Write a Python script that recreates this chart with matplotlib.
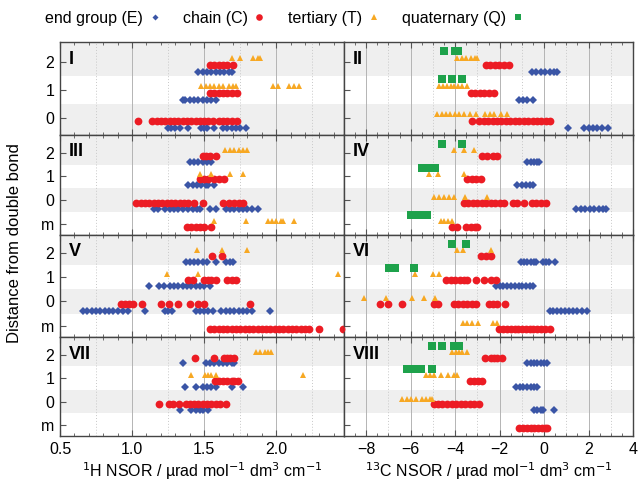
import numpy as np
import matplotlib.pyplot as plt
from matplotlib.lines import Line2D
from matplotlib.ticker import MultipleLocator

plt.rcParams['font.family'] = ['Liberation Sans', 'DejaVu Sans']

# -----------------------------
# data: NSOR values per panel, group and row (2, 1, 0, -1 = "m")
# -----------------------------
I_E = {2: [1.46, 1.49, 1.52, 1.55, 1.58, 1.61, 1.64, 1.67, 1.69],
       1: [1.35, 1.37, 1.40, 1.43, 1.46, 1.49, 1.52, 1.55, 1.58],
       0: [1.25, 1.27, 1.30, 1.33, 1.39, 1.48, 1.50, 1.52, 1.57, 1.63, 1.66, 1.69, 1.72, 1.75, 1.79]}
I_C = {2: [1.54, 1.57, 1.60, 1.63, 1.66, 1.70],
       1: [1.54, 1.57, 1.60, 1.63, 1.66, 1.69, 1.73],
       0: [1.04, 1.14, 1.17, 1.20, 1.23, 1.26, 1.29, 1.32, 1.35, 1.38, 1.41, 1.44, 1.47, 1.50,
           1.53, 1.56, 1.60, 1.63, 1.66, 1.69, 1.73]}
I_T = {2: [1.69, 1.75, 1.84, 1.87, 1.89],
       1: [1.48, 1.51, 1.54, 1.57, 1.60, 1.63, 1.67, 1.70, 1.72, 1.98, 2.01, 2.09, 2.12, 2.16]}
I_Q = {}

II_E = {2: [-0.55, -0.35, -0.15, 0.05, 0.25, 0.45, 0.6],
        1: [-1.15, -0.95, -0.75, -0.52],
        0: [1.09, 1.8, 2.0, 2.2, 2.4, 2.62, 2.88]}
II_C = {2: [-2.62, -2.42, -2.22, -2.02, -1.82, -1.57],
        1: [-3.3, -3.1, -2.9, -2.7, -2.5, -2.25],
        0: [-3.22, -2.92, -2.72, -2.52, -2.32, -2.12, -1.92, -1.72, -1.52, -1.32, -1.12, -0.92,
            -0.72, -0.52, -0.32, -0.12, 0.08, 0.25]}
II_T = {2: [-3.9, -3.7, -3.5, -3.3, -3.1, -3.0],
        1: [-4.72, -4.55, -4.38, -4.2, -4.03, -3.86, -3.7, -3.45],
        0: [-4.8, -4.57, -4.42, -4.22, -4.02, -3.82, -3.6, -3.35, -3.07, -2.67, -2.45, -2.25,
            -1.95, -1.65]}
II_Q = {2: [-4.5, -4.0, -3.85],
        1: [-4.57, -4.15, -3.67]}

III_E = {2: [1.40, 1.43, 1.46, 1.49, 1.52, 1.55],
         1: [1.39, 1.42, 1.45, 1.48, 1.51, 1.53, 1.57],
         0: [1.155, 1.178, 1.23, 1.26, 1.29, 1.32, 1.35, 1.39, 1.42, 1.45, 1.47, 1.54, 1.58,
             1.65, 1.68, 1.71, 1.74, 1.77, 1.80, 1.83, 1.87]}
III_C = {2: [1.49, 1.51, 1.54, 1.58],
         1: [1.47, 1.50, 1.53, 1.57, 1.60, 1.64],
         0: [1.03, 1.06, 1.09, 1.12, 1.15, 1.18, 1.21, 1.24, 1.27, 1.30, 1.33, 1.36, 1.39,
             1.43, 1.49, 1.63, 1.67, 1.71, 1.74, 1.77],
         -1: [1.38, 1.41, 1.44, 1.47, 1.50, 1.55]}
III_T = {2: [1.645, 1.68, 1.71, 1.74, 1.77, 1.80],
         1: [1.47, 1.55, 1.68, 1.77],
         -1: [1.57, 1.79, 1.94, 1.97, 2.0, 2.03, 2.05, 2.12]}
III_Q = {}

IV_E = {2: [-0.75, -0.6, -0.45, -0.3, -0.22],
        1: [-1.2, -1.0, -0.8, -0.65, -0.52],
        0: [1.45, 1.65, 1.85, 2.05, 2.25, 2.45, 2.65, 2.77]}
IV_C = {2: [-2.77, -2.55, -2.32, -2.1],
        1: [-3.45, -3.25, -3.05, -2.85],
        0: [-3.6, -3.4, -3.2, -3.0, -2.8, -2.6, -2.4, -2.2, -2.0, -1.8, -1.42, -1.2, -0.9,
            -0.55, -0.35, -0.15, 0.1],
        -1: [-4.12, -3.92, -3.52, -3.3, -3.1, -3.0]}
IV_T = {2: [-4.05, -3.6, -3.15],
        1: [-5.17, -4.75, -3.6],
        0: [-4.95, -4.72, -4.5, -4.27, -4.05, -3.55, -2.55],
        -1: [-4.65, -4.48, -4.3, -4.12]}
IV_Q = {2: [-4.57, -3.67],
        1: [-5.5, -5.3, -5.1, -4.9],
        -1: [-6.0, -5.8, -5.6, -5.47, -5.25]}

V_E = {2: [1.375, 1.40, 1.43, 1.46, 1.49, 1.52, 1.58, 1.65, 1.68, 1.70],
       1: [1.12, 1.19, 1.22, 1.26, 1.29, 1.32, 1.35, 1.38, 1.41, 1.44, 1.47, 1.50, 1.54],
       0: [0.66, 0.69, 0.72, 0.75, 0.78, 0.81, 0.84, 0.87, 0.90, 0.935, 0.975, 1.09, 1.225,
           1.25, 1.28, 1.44, 1.47, 1.50, 1.53, 1.56, 1.62, 1.65, 1.68, 1.71, 1.74, 1.77,
           1.80, 1.83, 1.96]}
V_C = {2: [1.556, 1.623],
       1: [1.39, 1.42, 1.50, 1.53, 1.55, 1.58, 1.66, 1.69, 1.72],
       0: [0.92, 0.95, 0.98, 1.005, 1.07, 1.20, 1.255, 1.32, 1.40, 1.46, 1.50, 1.82],
       -1: [1.54, 1.57, 1.60, 1.63, 1.66, 1.69, 1.72, 1.75, 1.78, 1.81, 1.84, 1.87, 1.90,
            1.93, 1.96, 1.99, 2.02, 2.05, 2.08, 2.11, 2.14, 2.17, 2.20, 2.23, 2.30, 2.46]}
V_T = {2: [1.451, 1.623, 1.799],
       1: [1.241, 1.456, 2.431]}
V_Q = {}

VI_E = {2: [-1.05, -0.9, -0.75, -0.6, -0.45, -0.37, -0.07, 0.08, 0.22, 0.49],
        1: [-2.17, -2.0, -1.83, -1.66, -1.49, -1.32, -1.15, -0.98, -0.81, -0.65, -0.52],
        0: [0.25, 0.42, 0.59, 0.76, 0.93, 1.1, 1.3, 1.5, 1.7, 1.95]}
VI_C = {2: [-2.85, -2.62, -2.4],
        1: [-4.39, -4.2, -4.0, -3.8, -3.6, -3.45, -3.04, -2.7, -2.4, -2.17],
        0: [-7.39, -7.0, -6.4, -4.95, -4.75, -4.05, -3.85, -3.65, -3.45, -3.25, -3.07, -2.5,
            -2.3, -2.1, -1.75],
        -1: [-9.15, -2.02, -1.85, -1.68, -1.5, -1.33, -1.16, -0.99, -0.82, -0.65, -0.48,
             -0.31, -0.14, 0.03, 0.25]}
VI_T = {2: [-3.9, -3.64, -2.4],
        1: [-5.8, -4.99, -4.72],
        0: [-8.1, -7.09, -5.92, -5.4, -4.9],
        -1: [-3.64, -3.45, -3.22, -2.95, -2.29, -2.1]}
VI_Q = {2: [-4.12, -3.49],
        1: [-6.97, -6.7, -5.85]}

VII_E = {2: [1.352, 1.514, 1.54, 1.57, 1.60, 1.63, 1.66, 1.69, 1.71],
         1: [1.368, 1.44, 1.49, 1.52, 1.55, 1.58, 1.69, 1.77],
         0: [1.333, 1.41, 1.44, 1.47, 1.49, 1.53]}
VII_C = {2: [1.433, 1.565, 1.641, 1.66, 1.68, 1.704],
         1: [1.572, 1.60, 1.63, 1.66, 1.69, 1.71, 1.734],
         0: [1.185, 1.255, 1.282, 1.324, 1.375, 1.40, 1.43, 1.46, 1.49, 1.52, 1.55, 1.58,
             1.61, 1.653]}
VII_T = {2: [1.861, 1.89, 1.92, 1.94, 1.965],
         1: [1.41, 1.509, 1.53, 1.55, 1.579, 2.185]}
VII_Q = {}

VIII_E = {2: [-0.75, -0.6, -0.45, -0.3, -0.15, 0.0, 0.15],
          1: [-1.27, -1.1, -0.93, -0.76, -0.6, -0.45, -0.34],
          0: [-0.45, -0.3, -0.15, -0.07, 0.45]}
VIII_C = {2: [-2.67, -2.4, -2.25, -2.1, -1.9],
          1: [-3.34, -3.15, -2.97, -2.8],
          0: [-4.95, -4.75, -4.57, -4.35, -4.15, -3.95, -3.75, -3.55, -3.35, -3.15, -2.92],
          -1: [-1.12, -0.95, -0.78, -0.61, -0.44, -0.27, -0.1, 0.05, 0.15]}
VIII_T = {2: [-4.12, -3.98, -3.84, -3.7, -3.45],
          1: [-5.3, -5.15, -4.95, -4.65, -4.3, -4.05, -3.9],
          0: [-6.37, -6.17, -5.97, -5.77, -5.47, -5.3, -5.15, -5.02]}
VIII_Q = {2: [-5.05, -4.6, -4.05, -3.82],
          1: [-6.15, -5.85, -5.7, -5.55, -5.05]}

panel_names = ["I", "II", "III", "IV", "V", "VI", "VII", "VIII"]
panel_data = [(I_E, I_C, I_T, I_Q), (II_E, II_C, II_T, II_Q),
              (III_E, III_C, III_T, III_Q), (IV_E, IV_C, IV_T, IV_Q),
              (V_E, V_C, V_T, V_Q), (VI_E, VI_C, VI_T, VI_Q),
              (VII_E, VII_C, VII_T, VII_Q), (VIII_E, VIII_C, VIII_T, VIII_Q)]
row_labels_3 = ["0", "1", "2"]
row_labels_4 = ["m", "0", "1", "2"]
group_labels = ["end group (E)", "chain (C)", "tertiary (T)", "quaternary (Q)"]

# -----------------------------
# styles
# -----------------------------
colors = ["#3a55a6", "#ec1c24", "#f7a823", "#1ea24b"]
markers = ["D", "o", "^", "s"]
msizes = [3.6, 5.6, 5.0, 5.2]
offsets = [-0.375, -0.125, 0.125, 0.375]
band_color = "#efefef"

fig = plt.figure(figsize=(6.38, 4.86), dpi=100)
gs = fig.add_gridspec(4, 2, height_ratios=[93, 100, 102, 99], width_ratios=[284, 289],
                      left=60/638, right=633/638, top=1-42/486, bottom=1-436/486,
                      hspace=0, wspace=0)

for i, (name, groups) in enumerate(zip(panel_names, panel_data)):
    r, c = divmod(i, 2)
    ax = fig.add_subplot(gs[r, c])
    four = r > 0
    ylo, yhi = (-1.47, 2.75) if four else (-0.61, 2.71)
    ax.set_ylim(ylo, yhi)
    if c == 0:
        ax.set_xlim(0.5, 2.47)
        ax.xaxis.set_major_locator(MultipleLocator(0.5))
        ax.xaxis.set_minor_locator(MultipleLocator(0.1))
        for xv in [0.75, 1.25, 1.75, 2.25]:
            ax.axvline(xv, color="#c8c8c8", lw=0.7, ls=(0, (1, 2)), zorder=0.5)
    else:
        ax.set_xlim(-9, 4)
        ax.xaxis.set_major_locator(MultipleLocator(2))
        ax.xaxis.set_minor_locator(MultipleLocator(0.5))
        for xv in range(-9, 4, 2):
            ax.axvline(xv, color="#c8c8c8", lw=0.7, ls=(0, (1, 2)), zorder=0.5)
    ax.grid(axis="x", which="major", color="#b4b4b4", lw=0.7, zorder=0.5)
    ax.set_axisbelow(True)

    # grey bands for rows 2 and 0
    ax.axhspan(1.5, yhi + 0.1, color=band_color, lw=0, zorder=0)
    ax.axhspan(ylo - 0.1, 0.5, color=band_color, lw=0, zorder=0)
    if four:
        ax.axhspan(-0.5, 0.5, color=band_color, lw=0, zorder=0)
        ax.axhspan(ylo - 0.1, -0.5, color="white", lw=0, zorder=0)

    for g, data in enumerate(groups):
        for row, xs in data.items():
            ax.plot(xs, np.full(len(xs), row + offsets[g]), ls="none",
                    marker=markers[g], ms=msizes[g], color=colors[g], mew=0, zorder=3)

    rows = [-1, 0, 1, 2] if four else [0, 1, 2]
    ax.set_yticks(rows)
    if c == 0:
        ax.set_yticklabels(row_labels_4 if four else row_labels_3, fontsize=11.5)
    else:
        ax.set_yticklabels([])
    ax.tick_params(axis="both", which="both", direction="in", top=True, right=False,
                   color="#555555", labelsize=11.5, pad=4)
    ax.tick_params(axis="y", length=4)
    ax.tick_params(axis="x", which="major", length=4)
    ax.tick_params(axis="x", which="minor", length=2)
    if r < 3:
        ax.set_xticklabels([])
    for sp in ax.spines.values():
        sp.set_color("#444444")
        sp.set_linewidth(1.0)

    ax.annotate(name, xy=(0, 1), xycoords="axes fraction", xytext=(9, -17),
                textcoords="offset pixels", ha="left", va="center",
                fontsize=13, fontweight="bold")

    if r == 3:
        if c == 0:
            ax.set_xlabel("$^1$H NSOR / µrad mol$^{-1}$ dm$^3$ cm$^{-1}$", fontsize=11.5,
                          labelpad=3)
        else:
            ax.set_xlabel("$^{13}$C NSOR / µrad mol$^{-1}$ dm$^3$ cm$^{-1}$", fontsize=11.5,
                          labelpad=3)

fig.text(15/638, 0.5, "Distance from double bond", rotation=90, ha="center", va="center",
         fontsize=12)

handles = [Line2D([], [], ls="none", marker=markers[g], ms=msizes[g] * 0.85,
                  color=colors[g], mew=0) for g in range(4)]
fig.legend(handles, group_labels, loc="center", bbox_to_anchor=(0.445, 1 - 18/486), ncol=4,
           frameon=False, markerfirst=False, fontsize=11.5, handlelength=0.6,
           handletextpad=0.4, columnspacing=1.5)

fig.savefig("out.png", dpi=100)
